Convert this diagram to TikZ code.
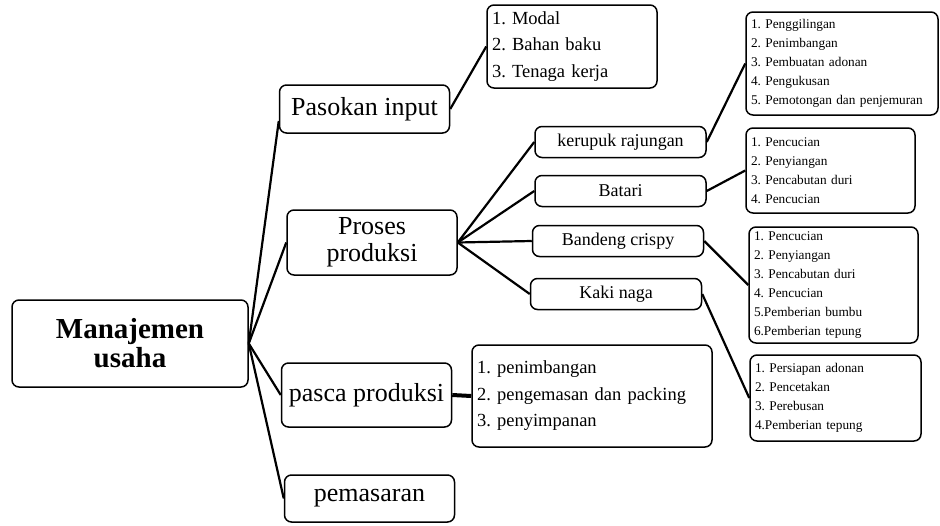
\documentclass[tikz,border=0pt]{standalone}
\usepackage{fontspec}
\setmainfont{Liberation Serif}
\frenchspacing

\begin{document}
\begin{tikzpicture}[x=1pt, y=-1pt,
  kotak/.style={draw, line width=1.5pt, rounded corners=7pt, inner sep=2pt},
  utama/.style={kotak, font=\fontsize{29}{29}\selectfont\bfseries, align=center,
    minimum width=236pt, minimum height=87pt},
  cabang/.style={kotak, font=\fontsize{26}{27}\selectfont, align=center, minimum width=170pt},
  ranting/.style={kotak, font=\fontsize{18}{18}\selectfont, minimum width=171pt, minimum height=31pt},
  daftar/.style={kotak, font=\fontsize{18.5}{26.5}\selectfont\frenchspacing, align=left, inner xsep=5pt},
  daftarkecil/.style={kotak, font=\fontsize{13.3}{19}\selectfont\frenchspacing, align=left, inner xsep=5pt},
  garis/.style={line width=2.2pt}]
  \useasboundingbox (0,0) rectangle (940,525);
  % Kotak utama
  \node[utama] (manajemen) at (130,343.5) {Manajemen\\usaha};
  % Cabang
  \node[cabang, minimum height=48pt] (pasokan) at (364.5,109) {Pasokan input};
  \node[cabang, minimum height=65pt] (proses) at (372,242.5) {Proses\\produksi};
  \node[cabang, minimum height=64pt] (pasca) at (366.5,395) {pasca produksi};
  \node[cabang, minimum height=47pt] (pemasaran) at (369.5,498.5) {pemasaran};
  % Produk
  \node[ranting] (kerupuk) at (620.5,142) {kerupuk rajungan};
  \node[ranting] (batari) at (620.5,191) {Batari};
  \node[ranting] (bandeng) at (618,241) {Bandeng crispy};
  \node[ranting] (kaki) at (616,294) {Kaki naga};
  % Daftar
  \node[daftar, text width=160pt, minimum height=83pt] (modal) at (572,46.5)
    {1. Modal\\2. Bahan baku\\3. Tenaga kerja};
  \node[daftar, text width=230pt, minimum height=102pt] (lpasca) at (592,396)
    {1. penimbangan\\2. pengemasan dan packing\\3. penyimpanan};
  \node[daftarkecil, text width=182pt, minimum height=103pt] (lkerupuk) at (842,63.5)
    {1. Penggilingan\\2. Penimbangan\\3. Pembuatan adonan\\4. Pengukusan\\5. Pemotongan dan penjemuran};
  \node[daftarkecil, text width=159pt, minimum height=85pt] (lbatari) at (830.5,170.5)
    {1. Pencucian\\2. Penyiangan\\3. Pencabutan duri\\4. Pencucian};
  \node[daftarkecil, text width=159pt, minimum height=116pt] (lbandeng) at (833.5,285)
    {1. Pencucian\\2. Penyiangan\\3. Pencabutan duri\\4. Pencucian\\5.Pemberian bumbu\\6.Pemberian tepung};
  \node[daftarkecil, text width=161pt, minimum height=86pt] (lkaki) at (835.5,398)
    {1. Persiapan adonan\\2. Pencetakan\\3. Perebusan\\4.Pemberian tepung};
  % Garis penghubung
  \draw[garis] (manajemen.east) -- ([yshift=-12pt]pasokan.west);
  \foreach \n in {proses,pasca,pemasaran}
    \draw[garis] (manajemen.east) -- (\n.west);
  \draw[garis] (pasokan.east) -- (modal.west);
  \foreach \n in {kerupuk,batari,bandeng,kaki}
    \draw[garis] (proses.east) -- (\n.west);
  \draw[garis] (kerupuk.east) -- (lkerupuk.west);
  \draw[garis] (batari.east) -- (lbatari.west);
  \draw[garis] (bandeng.east) -- (lbandeng.west);
  \draw[garis] (kaki.east) -- (lkaki.west);
  \draw[garis, line width=4pt] (pasca.east) -- (lpasca.west);
\end{tikzpicture}
\end{document}
